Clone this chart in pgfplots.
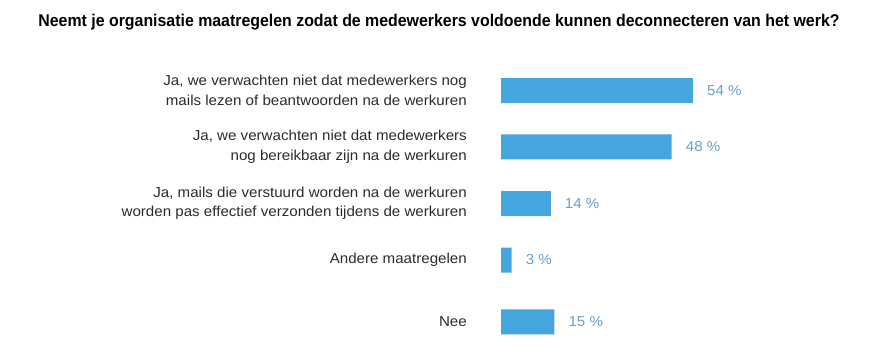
\documentclass[border=0pt]{standalone}
\usepackage{fontspec}
\setmainfont{Liberation Sans}
\newfontfamily\lab{Liberation Sans}[FakeStretch=1.05]
\newfontfamily\ttl{Liberation Sans}[FakeStretch=0.935]
\usepackage{pgfplots}
\pgfplotsset{compat=1.18}
\definecolor{barblue}{HTML}{45A5DE}
\definecolor{valblue}{HTML}{6A9FC6}
\definecolor{txt}{HTML}{2B2B2B}
\begin{document}
\begin{tikzpicture}[x=1pt,y=1pt]
\path[use as bounding box] (0,0) rectangle (880,353);
\node[anchor=base, font=\ttl\bfseries\fontsize{17}{20}\selectfont, text=black, inner sep=0] at (439,326.5) {Neemt je organisatie maatregelen zodat de medewerkers voldoende kunnen deconnecteren van het werk?};
\begin{axis}[at={(501pt,0pt)}, anchor=south west, scale only axis,
  width=379pt, height=353pt,
  xmin=0, xmax=106.6, ymin=0, ymax=353, y dir=reverse,
  axis line style={draw=none}, major tick length=0,
  xtick=\empty,
  xbar, bar width=25, bar shift=0,
  ytick={90.5,146.8,203.5,260,321.8},
  yticklabels={{Ja, we verwachten niet dat medewerkers nog\\mails lezen of beantwoorden na de werkuren},
    {Ja, we verwachten niet dat medewerkers\\nog bereikbaar zijn na de werkuren},
    {Ja, mails die verstuurd worden na de werkuren\\worden pas effectief verzonden tijdens de werkuren},
    {Andere maatregelen},
    {Nee}},
  yticklabel style={align=right, font=\lab\fontsize{14.4}{19.5}\selectfont, text=txt, inner sep=0pt, xshift=-34pt},
  point meta=x,
  /pgf/number format/assume math mode=true,
  nodes near coords={\pgfmathprintnumber{\pgfplotspointmeta} \%},
  nodes near coords style={anchor=west, inner sep=0pt, xshift=14pt, text=valblue, font=\lab\fontsize{14.4}{18}\selectfont},
  clip=false,
]
\addplot[fill=barblue, draw=none] coordinates {(54,90.5) (48,146.8) (14,203.5) (3,260) (15,321.8)};
\end{axis}
\end{tikzpicture}
\end{document}
